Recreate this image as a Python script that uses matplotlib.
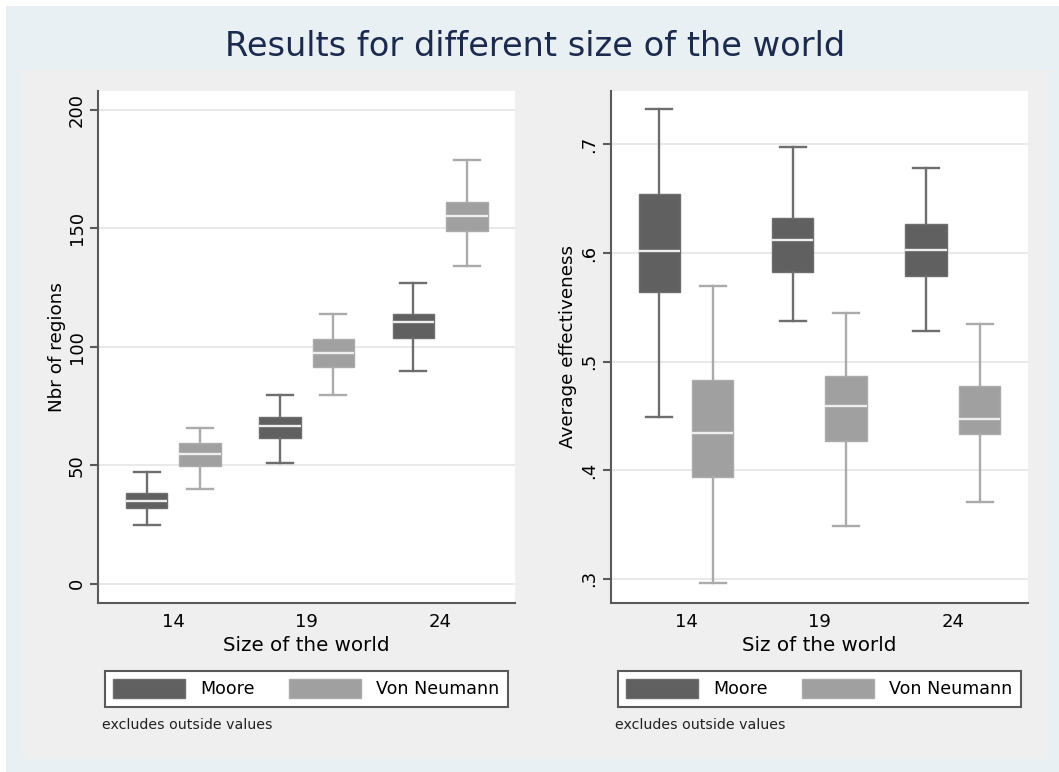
import matplotlib
matplotlib.use("Agg")
import matplotlib.pyplot as plt
from matplotlib.patches import Patch, Rectangle

sizes = [1, 2, 3]
size_labels = ["14", "19", "24"]
series = ["Moore", "Von Neumann"]

# number of regions: lower whisker, q1, median, q3, upper whisker
moore_reg_lo = [24.8, 50.9, 89.8]
moore_reg_q1 = [31.9, 61.6, 103.5]
moore_reg_med = [35.0, 66.7, 110.5]
moore_reg_q3 = [38.1, 70.4, 113.9]
moore_reg_hi = [47.0, 79.7, 126.9]

vn_reg_lo = [39.8, 79.8, 134.1]
vn_reg_q1 = [49.6, 91.5, 148.8]
vn_reg_med = [54.7, 97.4, 155.2]
vn_reg_q3 = [59.2, 103.1, 161.2]
vn_reg_hi = [65.7, 113.8, 178.8]

# average effectiveness
moore_eff_lo = [0.449, 0.537, 0.528]
moore_eff_q1 = [0.564, 0.583, 0.5785]
moore_eff_med = [0.602, 0.612, 0.603]
moore_eff_q3 = [0.654, 0.632, 0.627]
moore_eff_hi = [0.733, 0.698, 0.678]

vn_eff_lo = [0.296, 0.349, 0.371]
vn_eff_q1 = [0.394, 0.427, 0.433]
vn_eff_med = [0.4345, 0.459, 0.447]
vn_eff_q3 = [0.483, 0.487, 0.478]
vn_eff_hi = [0.5695, 0.5445, 0.535]

reg_ticks = [0, 50, 100, 150, 200]
eff_ticks = [0.3, 0.4, 0.5, 0.6, 0.7]
eff_tick_labels = [".3", ".4", ".5", ".6", ".7"]

DARK = "#606060"
DARK_LINE = "#6e6e6e"
LIGHT = "#a0a0a0"
LIGHT_LINE = "#ababab"

W, H = 1059, 772
plt.rcParams["font.family"] = ["DejaVu Sans"]

fig = plt.figure(figsize=(W / 100, H / 100), dpi=100)
fig.patch.set_facecolor("white")
fig.patches.append(Rectangle((6 / W, 0), 1, 1 - 6 / H, transform=fig.transFigure,
                             facecolor="#e8f0f3", edgecolor="none", zorder=-3))
fig.patches.append(Rectangle((22 / W, 1 - 759.3 / H), (1048 - 22) / W, (759.3 - 70) / H,
                             transform=fig.transFigure, facecolor="#efefef",
                             edgecolor="none", zorder=-2))


def box_stats(lo, q1, med, q3, hi):
    return [dict(whislo=a, q1=b, med=c, q3=d, whishi=e, fliers=[])
            for a, b, c, d, e in zip(lo, q1, med, q3, hi)]


def draw_boxes(ax, stats, offset, fill, line):
    pos = [s + offset for s in sizes]
    ax.bxp(stats, positions=pos, widths=0.311, capwidths=0.195,
           patch_artist=True, showfliers=False, manage_ticks=False,
           boxprops=dict(facecolor=fill, edgecolor=line, linewidth=1.0),
           whiskerprops=dict(color=line, linewidth=1.7),
           capprops=dict(color=line, linewidth=1.7),
           medianprops=dict(color="#eeeeee", linewidth=1.7))


def style_axes(ax, ticks, tick_labels, ylim, ylabel, xlabel, ylab_x):
    ax.set_facecolor("white")
    ax.set_xlim(0.436, 3.561)
    ax.set_ylim(*ylim)
    ax.set_yticks(ticks)
    ax.set_yticklabels(tick_labels, rotation=90, va="center", fontsize=13)
    ax.set_xticks(sizes)
    ax.set_xticklabels(size_labels, fontsize=13)
    ax.tick_params(axis="x", length=0, pad=7)
    ax.tick_params(axis="y", length=6, width=1.5, color="#5a5a5a", pad=3)
    ax.grid(axis="y", color="#e9e9e9", linewidth=1.4)
    ax.set_axisbelow(True)
    for side in ["top", "right"]:
        ax.spines[side].set_visible(False)
    for side in ["left", "bottom"]:
        ax.spines[side].set_color("#5a5a5a")
        ax.spines[side].set_linewidth(1.5)
    ax.set_ylabel(ylabel, fontsize=13.2, va="center")
    ax.yaxis.set_label_coords(ylab_x, 0.5)
    ax.set_xlabel(xlabel, fontsize=14.3, va="center")
    ax.xaxis.set_label_coords(0.5, -0.0833)

    handles = [Patch(facecolor=DARK, edgecolor=DARK_LINE, label=series[0]),
               Patch(facecolor=LIGHT, edgecolor=LIGHT_LINE, label=series[1])]
    x0 = ax.get_position().x0
    leg = ax.legend(handles=handles, ncol=2, loc="upper left",
                    bbox_to_anchor=(x0 + 7 / W, 1 - 670.7 / H), bbox_transform=fig.transFigure,
                    fontsize=12.6, frameon=True, fancybox=False, edgecolor="#5a5a5a",
                    facecolor="white", framealpha=1, handlelength=4.1, handleheight=1.26,
                    handletextpad=0.87, columnspacing=1.96, borderpad=0.48, borderaxespad=0)
    leg.get_frame().set_linewidth(1.5)
    fig.text(x0 + 4.3 / W, 1 - 725 / H, "excludes outside values", fontsize=10.2,
             va="center", ha="left", color="#222222")


ax1 = fig.add_axes([98 / W, 1 - 603.3 / H, 417 / W, 512.6 / H])
draw_boxes(ax1, box_stats(moore_reg_lo, moore_reg_q1, moore_reg_med, moore_reg_q3, moore_reg_hi),
           -0.2, DARK, DARK_LINE)
draw_boxes(ax1, box_stats(vn_reg_lo, vn_reg_q1, vn_reg_med, vn_reg_q3, vn_reg_hi),
           0.2, LIGHT, LIGHT_LINE)
style_axes(ax1, reg_ticks, [str(t) for t in reg_ticks], (-8.3, 208),
           "Nbr of regions", "Size of the world", -0.0983)

ax2 = fig.add_axes([610.7 / W, 1 - 603.3 / H, 417 / W, 512.6 / H])
draw_boxes(ax2, box_stats(moore_eff_lo, moore_eff_q1, moore_eff_med, moore_eff_q3, moore_eff_hi),
           -0.2, DARK, DARK_LINE)
draw_boxes(ax2, box_stats(vn_eff_lo, vn_eff_q1, vn_eff_med, vn_eff_q3, vn_eff_hi),
           0.2, LIGHT, LIGHT_LINE)
style_axes(ax2, eff_ticks, eff_tick_labels, (0.2775, 0.7495),
           "Average effectiveness", "Siz of the world", -0.1024)

fig.text(535 / W, 1 - 55.7 / H, "Results for different size of the world",
         family=["Liberation Sans Narrow", "DejaVu Sans"], fontsize=24.2,
         color="#1c2a4d", ha="center", va="baseline")

fig.savefig("out.png", dpi=100)
